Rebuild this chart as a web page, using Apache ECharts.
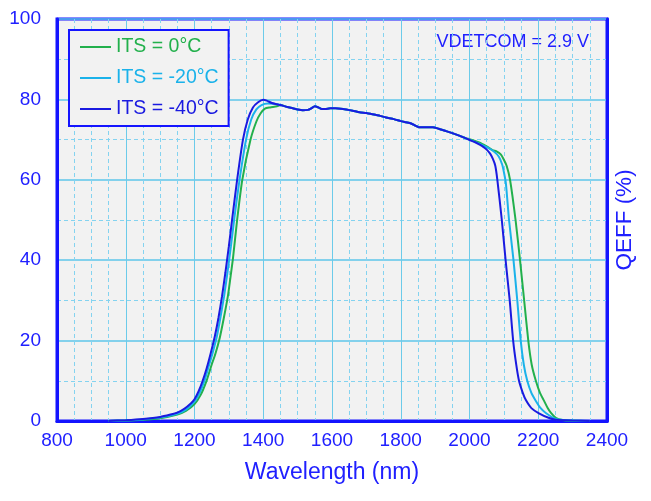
<!DOCTYPE html>
<html>
<head>
<meta charset="utf-8">
<script src="https://cdn.jsdelivr.net/npm/echarts@6/dist/echarts.min.js"></script>
<style>html,body{margin:0;padding:0;background:#fff}#c{width:651px;height:501px}</style>
</head>
<body>
<div id="c"></div>
<script>
// ---- data ----
const seriesNames = ['ITS = 0°C', 'ITS = -20°C', 'ITS = -40°C'];
const xTicks = [800, 1000, 1200, 1400, 1600, 1800, 2000, 2200, 2400];
const yTicks = [0, 20, 40, 60, 80, 100];
const annotation = 'VDETCOM = 2.9 V';

// rising edge per temperature
const riseWl0   = [950,1000,1050,1100,1150,1175,1200,1218,1235,1248,1261,1273,1285,1297,1305,1312,1324,1339,1363,1380,1392,1405,1420,1440];
const riseQe0   = [0,0.1,0.3,0.7,1.6,2.5,4.2,6.5,10,13.5,16.8,20.5,25.5,31,36,40.5,50,60,70,74.5,76.5,77.7,78.0,78.3];
const riseWl20  = [950,1000,1050,1100,1150,1175,1200,1215,1229,1241,1253,1265,1276,1286,1296,1306,1316,1331,1350,1365,1380,1395,1413,1430,1440];
const riseQe20  = [0,0.15,0.4,0.85,1.8,2.8,4.8,7,10,13.5,17,21,26,31,37,43.5,50.5,60,70,75,77.5,78.6,79.0,78.9,78.8];
const riseWl40  = [950,1000,1050,1100,1130,1150,1170,1190,1200,1212,1223,1235,1247,1259,1270,1280,1290,1300,1310,1324,1341,1355,1370,1385,1400,1410,1425,1440];
const riseQe40  = [0,0.2,0.5,1.0,1.6,2.1,3.0,4.4,5.4,7.4,9.8,13,16.8,21,25.8,31,37,43.5,50.5,60,70,75,78,79.3,79.9,79.7,79.1,78.8];

// common plateau (the three curves overlap here)
const plateauWl = [1450,1470,1486,1500,1515,1530,1540,1550,1560,1570,1580,1595,1610,1625,1641,1660,1680,1700,1718,1740,1757,1780,1800,1815,1830,1842,1852,1870,1893,1910,1932,1950,1970,1990];
const plateauQe = [78.6,78.1,77.8,77.5,77.3,77.4,77.8,78.3,78.0,77.6,77.6,77.8,77.8,77.7,77.5,77.2,76.8,76.6,76.3,75.9,75.5,75.1,74.6,74.3,74.0,73.5,73.1,73.1,73.1,72.7,72.1,71.6,71.0,70.3];

// falling edge per temperature
const fallWl0   = [2000,2028,2050,2067,2080,2091,2100,2108,2118,2134,2147,2159,2171,2181,2193,2205,2217,2227,2237,2251,2270,2300,2350];
const fallQe0   = [70.1,69.3,68.3,67.4,67.0,66.3,65.0,63.5,60,50,40,30,20,14,10,7,5,3.3,2,0.8,0.25,0.05,0];
const fallWl20  = [2000,2028,2050,2070,2085,2095,2101,2106,2115,2128,2139,2149,2158,2168,2180,2193,2207,2222,2251,2300,2350];
const fallQe20  = [70.0,69.0,68.1,67.1,65.8,63.8,61.5,59,50,40,30,20,14,10,7,5,3.2,2,0.5,0.1,0];
const fallWl40  = [2000,2015,2028,2040,2050,2060,2068,2075,2081,2094,2105,2117,2127,2136,2144,2155,2164,2180,2202,2230,2251,2300,2350];
const fallQe40  = [69.9,69.4,68.8,68.2,67.5,66.5,65.2,63.5,60,50,40,30,20,14,10,7,5.2,3.2,1.9,0.8,0.3,0.1,0];

// ---- build ----
function pairs(wl, qe){ return wl.map((w,i)=>[w, qe[i]]); }
function curve(rw, rq, fw, fq){
  return pairs(rw, rq).concat(pairs(plateauWl, plateauQe), pairs(fw, fq));
}
const dataSets = [
  curve(riseWl0, riseQe0, fallWl0, fallQe0),
  curve(riseWl20, riseQe20, fallWl20, fallQe20),
  curve(riseWl40, riseQe40, fallWl40, fallQe40)
];
const colors = ['#22b04c', '#1ab2ea', '#1a1ae0'];
const axisBlue = '#1414ff';
const textBlue = '#2020ff';
const FONT = 'Liberation Sans, Arial, sans-serif';

const chart = echarts.init(document.getElementById('c'), null, {renderer:'canvas'});
chart.setOption({
  animation: false,
  backgroundColor: '#ffffff',
  grid: {left: 57, right: 44, top: 19, bottom: 80, show: true,
         backgroundColor: '#f2f2f2', borderColor: axisBlue, borderWidth: 3, containLabel: false},
  legend: {
    orient: 'vertical', left: 69, top: 30,
    padding: [7, 10, 7, 11], itemGap: 11,
    itemWidth: 31, itemHeight: 2, icon: 'rect',
    backgroundColor: '#f2f2f2', borderColor: axisBlue, borderWidth: 2, borderRadius: 0,
    textStyle: {fontFamily: FONT, fontSize: 19.5, lineHeight: 20},
    data: seriesNames.map((n,i)=>({name: n, textStyle: {color: colors[i]}}))
  },
  xAxis: {
    type: 'value', min: xTicks[0], max: xTicks[xTicks.length-1], interval: xTicks[1]-xTicks[0],
    name: 'Wavelength (nm)', nameLocation: 'middle', nameGap: 40,
    nameTextStyle: {color: textBlue, fontFamily: FONT, fontSize: 23},
    axisLine: {show: true, lineStyle: {color: axisBlue, width: 3}},
    axisTick: {show: false},
    axisLabel: {color: textBlue, fontFamily: FONT, fontSize: 19, margin: 10, formatter: v => String(v)},
    splitLine: {show: true, lineStyle: {color: '#6ccbea', width: 1}},
    minorTick: {show: false, splitNumber: 4},
    minorSplitLine: {show: true, lineStyle: {color: '#84d3f0', width: 1, type: [4, 3]}}
  },
  yAxis: [{
    type: 'value', min: yTicks[0], max: yTicks[yTicks.length-1], interval: yTicks[1]-yTicks[0],
    axisLine: {show: true, lineStyle: {color: axisBlue, width: 3}},
    axisTick: {show: false},
    axisLabel: {color: textBlue, fontFamily: FONT, fontSize: 19, margin: 16},
    splitLine: {show: true, lineStyle: {color: '#5ec6ea', width: 1.5}},
    minorTick: {show: false, splitNumber: 2},
    minorSplitLine: {show: true, lineStyle: {color: '#84d3f0', width: 1, type: [4, 3]}}
  }, {
    type: 'value', position: 'right', min: yTicks[0], max: yTicks[yTicks.length-1],
    name: 'QEFF (%)', nameLocation: 'middle', nameGap: 6,
    nameTextStyle: {color: textBlue, fontFamily: FONT, fontSize: 22.5},
    axisLine: {show: true, lineStyle: {color: axisBlue, width: 3}},
    axisTick: {show: false}, axisLabel: {show: false}, splitLine: {show: false}
  }],
  graphic: [{
    type: 'text', right: 62, top: 33,
    style: {text: annotation, fill: textBlue, font: '18px ' + FONT}
  }],
  series: dataSets.map((d,i)=>({
    name: seriesNames[i], type: 'line', data: d,
    showSymbol: false, smooth: 0.2, z: 2 + i,
    lineStyle: {color: colors[i], width: 2},
    itemStyle: {color: colors[i]}
  }))
});
</script>
</body>
</html>
